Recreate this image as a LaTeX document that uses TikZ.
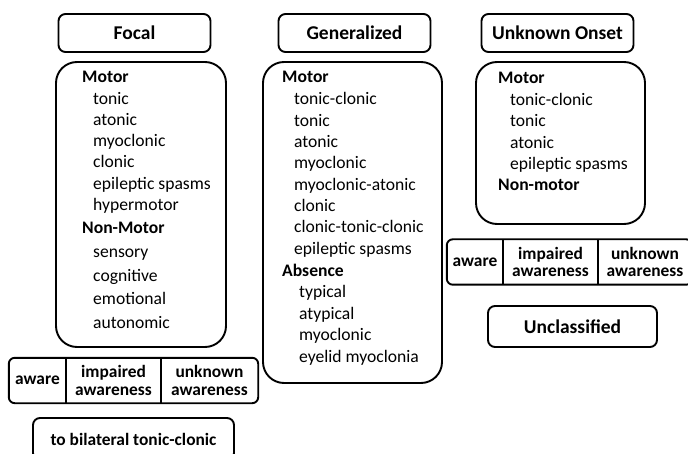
\documentclass[tikz,border=0pt]{standalone}
\usepackage{fontspec}
\setmainfont{Carlito}
\begin{document}
\begin{tikzpicture}[x=1pt,y=-1pt,
  rule/.style={line width=1.9pt,black},
  titlebox/.style={draw,rule,rounded corners=7pt,inner sep=0pt,minimum width=152pt,minimum height=38pt,
    font=\bfseries\fontsize{19.5}{22}\selectfont},
  panel/.style={draw,rule,rounded corners=21pt,inner sep=0pt},
  labelbox/.style={draw,rule,rounded corners=7pt,inner sep=0pt,
    font=\bfseries\fontsize{17.4}{20}\selectfont},
  cell/.style={inner sep=0pt,minimum height=45pt,align=center,
    font=\bfseries\fontsize{17.4}{17.5}\selectfont},
  rowframe/.style={draw,rule,rounded corners=6pt},
  item/.style={anchor=base west,inner sep=0pt,font=\fontsize{17.6}{20}\selectfont},
  head/.style={item,font=\bfseries\fontsize{17.6}{20}\selectfont}]
\useasboundingbox (0,0) rectangle (688,454);
\clip (0,0) rectangle (688,454);

% column titles
\node[titlebox] (focal) at (134.5,33) {Focal};
\node[titlebox] (gen) at (354.5,33) {Generalized};
\node[titlebox] (unk) at (557.5,33) {Unknown Onset};

% lists of seizure types
\node[panel,minimum width=170pt,minimum height=285pt] (fpanel) at (141,204.5) {};
\node[panel,minimum width=179pt,minimum height=321pt] (gpanel) at (352.5,222.5) {};
\node[panel,minimum width=169pt,minimum height=162pt] (upanel) at (560.5,143) {};

% focal list
\node[head] (fmotor) at (82,83) {Motor};
\foreach \yy/\tt [count=\i] in {105/tonic,126/atonic,147/myoclonic,168/clonic,190/epileptic spasms,211/hypermotor}
  \node[item] (fm\i) at (93,\yy) {\tt};
\node[head] (fnonmotor) at (82,234) {Non-Motor};
\foreach \yy/\tt [count=\i] in {258/sensory,282/cognitive,305/emotional,329/autonomic}
  \node[item] (fn\i) at (93,\yy) {\tt};

% generalized list
\node[head] (gmotor) at (282,83) {Motor};
\foreach \yy/\tt [count=\i] in {105/tonic-clonic,126.5/tonic,148/atonic,169/myoclonic,190.5/myoclonic-atonic,212/clonic,233/clonic-tonic-clonic,255/epileptic spasms}
  \node[item] (gm\i) at (294,\yy) {\tt};
\node[head] (gabs) at (282,276.5) {Absence};
\foreach \yy/\tt [count=\i] in {298/typical,319.5/atypical,341/myoclonic,362/eyelid myoclonia}
  \node[item] (ga\i) at (299,\yy) {\tt};

% unknown onset list
\node[head] (umotor) at (498,84) {Motor};
\foreach \yy/\tt [count=\i] in {105.5/tonic-clonic,127/tonic,148.5/atonic,170/epileptic spasms}
  \node[item] (um\i) at (510,\yy) {\tt};
\node[head] (unonmotor) at (498,191) {Non-motor};

% awareness rows
\node[cell,minimum width=57pt] (fa1) at (37.5,380.5) {aware};
\node[cell,minimum width=95pt] (fa2) at (113.5,380.5) {impaired\\awareness};
\node[cell,minimum width=97pt] (fa3) at (209.5,380.5) {unknown\\awareness};
\draw[rowframe] (fa1.north west) rectangle (fa3.south east);
\draw[rule] (fa1.north east) -- (fa1.south east);
\draw[rule] (fa2.north east) -- (fa2.south east);

\node[cell,minimum width=56pt] (ua1) at (475,262) {aware};
\node[cell,minimum width=95pt] (ua2) at (550.5,262) {impaired\\awareness};
\node[cell,minimum width=94pt] (ua3) at (645,262) {unknown\\awareness};
\draw[rowframe] (ua1.north west) rectangle (ua3.south east);
\draw[rule] (ua1.north east) -- (ua1.south east);
\draw[rule] (ua2.north east) -- (ua2.south east);

% remaining labels
\node[labelbox,minimum width=201pt,minimum height=42pt] (bilat) at (133.5,439) {to bilateral tonic-clonic};
\node[labelbox,minimum width=169pt,minimum height=41pt,font=\bfseries\fontsize{19.5}{22}\selectfont] (uncl) at (572.5,326.5) {Unclassified};
\end{tikzpicture}
\end{document}
